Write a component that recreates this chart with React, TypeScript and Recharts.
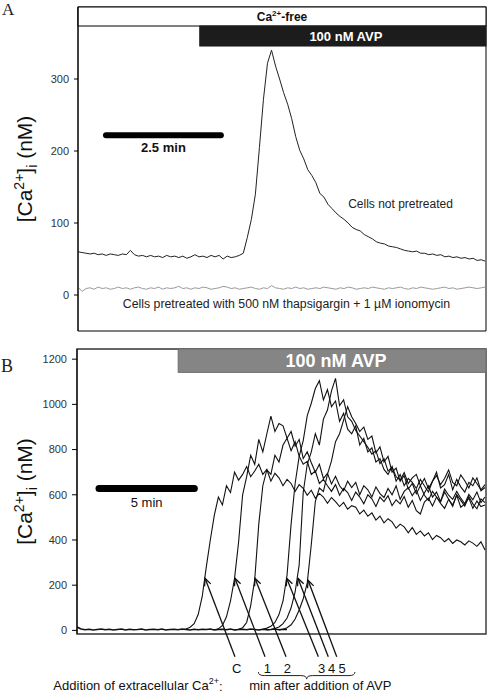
import React from 'react';
import { LineChart, Line, XAxis, YAxis, ReferenceArea, ReferenceLine, ReferenceDot } from 'recharts';

const FONT = '"Liberation Sans", Arial, Helvetica, sans-serif';
const SERIF = '"Liberation Serif", "DejaVu Serif", serif';

// ---- panel A: one sample every 5 s ----
const A_STEP_S = 5;
const untreatedA = [
  60, 59, 58, 57, 58, 56, 57, 55, 57, 56,
  55, 57, 56, 62, 56, 54, 55, 53, 55, 53,
  54, 52, 55, 53, 54, 52, 54, 51, 53, 56,
  53, 54, 52, 55, 53, 55, 50, 54, 52, 53,
  55, 58, 80, 105, 140, 205, 272, 322, 340, 318,
  300, 281, 265, 245, 220, 201, 189, 174, 166, 156,
  141, 136, 126, 120, 114, 109, 105, 100, 94, 91,
  89, 84, 81, 78, 74, 72, 71, 68, 67, 66,
  64, 62, 61, 60, 61, 58, 58, 56, 57, 55,
  56, 53, 54, 52, 53, 51, 52, 50, 51, 48,
  49, 47,
];
const pretreatedA = [
  11, 5, 9, 10, 8, 11, 9, 10, 8, 9,
  11, 9, 10, 8, 10, 11, 9, 8, 10, 9,
  11, 8, 10, 9, 10, 12, 9, 10, 8, 10,
  9, 11, 10, 8, 9, 10, 12, 11, 9, 10,
  8, 9, 10, 11, 9, 8, 10, 9, 13, 10,
  9, 8, 10, 9, 11, 9, 10, 8, 9, 10,
  9, 11, 10, 9, 8, 10, 9, 11, 10, 8,
  9, 10, 9, 11, 10, 9, 8, 10, 9, 10,
  11, 9, 8, 10, 9, 11, 10, 9, 8, 9,
  10, 11, 9, 10, 8, 9, 10, 11, 10, 9,
  10, 11,
];
const yTicksA = [0, 100, 200, 300];

// ---- panel B: one sample every 0.2 min ----
const B_STEP_MIN = 0.2;
const baselineB = [
  15, 6, 3, 5, 2, 4, 6, 3, 5, 2,
  4, 6, 2, 5, 3, 4, 6, 2, 4, 5,
  3, 6, 2, 4, 5, 3, 6, 4, 2, 5,
  3, 5, 4, 6, 2, 4, 5, 3, 6, 2,
  4, 5, 3, 6, 4, 2, 5, 3, 4, 6,
  3, 5, 4,
];
// minute at which each trace record starts (C, 1, 2, 3, 4, 5)
const traceStartsB = [5.2, 6.8, 7.8, 9.0, 9.4, 10.0];
const traceC = [
  3, 6, 14, 30, 70, 150, 280, 400, 510, 590,
  555, 640, 610, 700, 665, 690, 725, 680, 705, 735,
  690, 712, 660, 695, 675, 640, 668, 650, 615, 645,
  628, 598, 620, 585, 606, 590, 562, 588, 570, 548,
  566, 536, 552, 545, 515, 532, 505, 520, 488, 506,
  476, 494, 480, 452, 470, 458, 432, 455, 425, 440,
  418, 432, 402, 420, 410, 392, 406, 385, 400, 392,
  378, 396, 386, 372, 392, 356,
];
const trace1 = [
  3, 7, 22, 60, 130, 230, 390, 600, 680, 775,
  735, 845, 790, 870, 948, 880, 915, 905, 850, 880,
  815, 845, 760, 790, 742, 700, 735, 672, 695, 648,
  682, 640, 618, 660, 632, 655, 600, 640, 622, 590,
  635, 605, 588, 628, 600, 640, 580, 615, 632, 596,
  622, 575, 608, 640, 590, 612, 570, 625, 598, 580,
  615, 585, 560, 602, 578, 612, 565, 590,
];
const trace2 = [
  2, 5, 12, 35, 110, 225, 470, 640, 710, 690,
  775, 745, 820, 850, 795, 835, 770, 735, 748, 690,
  705, 650, 668, 640, 615, 645, 598, 628, 610, 575,
  612, 590, 560, 600, 582, 548, 590, 570, 596, 552,
  578, 560, 592, 545, 575, 530, 515, 568, 585, 550,
  590, 562, 540, 580, 555, 598, 545, 560, 585, 540,
  572, 548, 555,
];
const trace3 = [
  3, 5, 10, 18, 35, 70, 130, 245, 470, 650,
  770, 840, 950, 1005, 1070, 1105, 1020, 1065, 990, 1015,
  925, 960, 890, 870, 905, 820, 850, 790, 808, 745,
  760, 712, 690, 725, 660, 690, 640, 672, 655, 628,
  668, 640, 612, 660, 700, 630, 645, 690, 622, 668,
  635, 612, 655, 640, 675, 618, 632,
];
const trace4 = [
  2, 4, 8, 15, 30, 55, 100, 170, 290, 610,
  735, 790, 870, 820, 935, 975, 1060, 1115, 995, 1020,
  945, 925, 885, 860, 835, 810, 780, 795, 738, 760,
  705, 722, 680, 665, 698, 650, 675, 690, 640, 672,
  628, 660, 685, 645, 672, 710, 655, 640, 688, 662,
  630, 675, 650, 622, 645,
];
const trace5 = [
  2, 5, 12, 25, 50, 90, 140, 210, 380, 570,
  630, 615, 690, 750, 835, 870, 930, 990, 945, 915,
  880, 900, 845, 860, 785, 812, 745, 770, 700, 718,
  660, 685, 625, 650, 605, 640, 598, 575, 615, 590,
  568, 612, 580, 548, 600, 575, 550, 592, 560, 538,
  582, 565,
];
const yTicksB = [0, 200, 400, 600, 800, 1000, 1200];

// arrows: label, tail minute, tip minute, tip value
const arrowLabels = ['C', '1', '2', '3', '4', '5'];
const arrowTailT = [7.82, 9.31, 10.35, 11.95, 12.44, 12.86];
const arrowTipT = [6.34, 7.82, 8.81, 10.38, 10.94, 11.44];
const arrowTipV = [231, 231, 231, 231, 231, 222];
const arrowLabelT = [7.91, 9.42, 10.41, 12.11, 12.61, 13.13];

const panelAData = untreatedA.map((v, i) => ({
  t: i * A_STEP_S,
  untreated: v,
  pretreated: pretreatedA[i],
}));

const toSeries = (start: number, values: number[]) =>
  values.map((v, i) => ({ t: +(start + i * B_STEP_MIN).toFixed(2), v }));

const baselineSeries = toSeries(0, baselineB);
const tracesB = [traceC, trace1, trace2, trace3, trace4, trace5].map((vals, k) =>
  toSeries(traceStartsB[k], vals)
);

const tickStyle = { fill: '#333', fontSize: 11, fontFamily: FONT };

const yLabel = (props: any) => {
  const vb = props.viewBox || {};
  const cy = (vb.y ?? 0) + (vb.height ?? 0) / 2;
  const x = 32;
  return (
    <text
      x={x}
      y={cy}
      transform={`rotate(-90 ${x} ${cy})`}
      textAnchor="middle"
      fontFamily={FONT}
      fontSize={21}
      fill="#111"
    >
      [Ca<tspan fontSize={14} dy={-8}>2+</tspan>
      <tspan dy={8}>]</tspan>
      <tspan fontSize={14} dy={5}>i</tspan>
      <tspan dy={-5}>{' (nM)'}</tspan>
    </text>
  );
};

const note = (x: number, y: number, content: React.ReactNode, opts: any = {}) => (
  <ReferenceDot
    x={x}
    y={y}
    r={0}
    ifOverflow="visible"
    shape={(p: any) => (
      <text
        x={p.cx}
        y={p.cy}
        textAnchor={opts.anchor || 'middle'}
        dominantBaseline="central"
        fontFamily={FONT}
        fontSize={opts.size || 12}
        fontWeight={opts.bold ? 'bold' : 'normal'}
        fill={opts.color || '#222'}
      >
        {content}
      </text>
    )}
  />
);

const scaleBar = (text: string, bold: boolean, width: number, gap: number) => (p: any) => (
  <g>
    <line x1={p.x1} y1={p.y1} x2={p.x2} y2={p.y2} stroke="#000" strokeWidth={width} strokeLinecap="round" />
    <text
      x={(p.x1 + p.x2) / 2}
      y={p.y1 + gap}
      textAnchor="middle"
      dominantBaseline="central"
      fontFamily={FONT}
      fontSize={13}
      fontWeight={bold ? 'bold' : 'normal'}
      fill="#111"
    >
      {text}
    </text>
  </g>
);

const barShape = (fill: string, stroke: string, content: React.ReactNode, size: number, color: string, dx = 0) => (p: any) => (
  <g>
    <rect x={p.x} y={p.y} width={p.width} height={p.height} fill={fill} stroke={stroke} />
    <text
      x={p.x + p.width / 2 + dx}
      y={p.y + p.height / 2}
      textAnchor="middle"
      dominantBaseline="central"
      fontFamily={FONT}
      fontSize={size}
      fontWeight="bold"
      fill={color}
    >
      {content}
    </text>
  </g>
);

const arrowShape = (p: any) => {
  const { x1, y1, x2, y2 } = p;
  const a = Math.atan2(y2 - y1, x2 - x1);
  const len = 8;
  const w = 0.42;
  const ax = x2 - len * Math.cos(a - w);
  const ay = y2 - len * Math.sin(a - w);
  const bx = x2 - len * Math.cos(a + w);
  const by = y2 - len * Math.sin(a + w);
  return (
    <g>
      <line x1={x1} y1={y1} x2={x2} y2={y2} stroke="#111" strokeWidth={1.3} />
      <polyline points={`${ax},${ay} ${x2},${y2} ${bx},${by}`} fill="none" stroke="#111" strokeWidth={1.3} />
    </g>
  );
};

const braceShape = (p: any) => {
  const { x1, x2, y1: y } = p;
  const h = 7;
  const m = (x1 + x2) / 2;
  const d = `M${x1},${y} Q${x1},${y + h / 2} ${x1 + 6},${y + h / 2} L${m - 6},${y + h / 2} Q${m},${y + h / 2} ${m},${y + h} Q${m},${y + h / 2} ${m + 6},${y + h / 2} L${x2 - 6},${y + h / 2} Q${x2},${y + h / 2} ${x2},${y}`;
  return <path d={d} fill="none" stroke="#222" strokeWidth={1} />;
};

function PanelA() {
  return (
    <LineChart width={488} height={340} data={panelAData} margin={{ top: 7, right: 2, bottom: 9, left: 0 }}>
      <XAxis dataKey="t" type="number" domain={[0, 506]} hide allowDataOverflow />
      <YAxis
        type="number"
        domain={[-50, 400]}
        ticks={yTicksA}
        interval={0}
        width={78}
        tickSize={4}
        tickMargin={5}
        axisLine={{ stroke: '#000' }}
        tickLine={{ stroke: '#000' }}
        tick={tickStyle}
        label={yLabel}
        allowDataOverflow
      />
      <ReferenceArea x1={0} x2={506} y1={-50} y2={400} fill="none" stroke="#000" ifOverflow="visible" />
      <ReferenceArea
        x1={0}
        x2={506}
        y1={373.6}
        y2={400}
        ifOverflow="visible"
        shape={barShape(
          '#fff',
          '#000',
          <>
            Ca<tspan fontSize={8} dy={-4}>2+</tspan>
            <tspan dy={4}>-free</tspan>
          </>,
          12,
          '#111'
        )}
      />
      <ReferenceArea
        x1={151}
        x2={506}
        y1={345.8}
        y2={373.6}
        ifOverflow="visible"
        shape={barShape('#1c1c1c', '#1c1c1c', '100 nM AVP', 13, '#fff', 3)}
      />
      <Line type="linear" dataKey="pretreated" stroke="#9a9a9a" strokeWidth={1} dot={false} isAnimationActive={false} />
      <Line type="linear" dataKey="untreated" stroke="#222" strokeWidth={1} dot={false} isAnimationActive={false} />
      <ReferenceLine
        segment={[{ x: 34.7, y: 222 }, { x: 177.2, y: 222 }]}
        ifOverflow="visible"
        shape={scaleBar('2.5 min', true, 6, 12)}
      />
      {note(400, 126.4, 'Cells not pretreated')}
      {note(258.6, -12.5, <>Cells pretreated with 500 nM thapsigargin + 1 {'\u00b5'}M ionomycin</>, { size: 12.3 })}
    </LineChart>
  );
}

function PanelB() {
  return (
    <LineChart width={488} height={354} margin={{ top: 9, right: 2, bottom: 60, left: 0 }}>
      <XAxis dataKey="t" type="number" domain={[0, 20.25]} hide allowDataOverflow />
      <YAxis
        type="number"
        domain={[-16, 1245]}
        ticks={yTicksB}
        interval={0}
        width={77}
        tickSize={5}
        tickMargin={5}
        axisLine={{ stroke: '#000' }}
        tickLine={{ stroke: '#000' }}
        tick={tickStyle}
        label={yLabel}
        allowDataOverflow
      />
      <ReferenceArea x1={0} x2={20.25} y1={-16} y2={1245} fill="none" stroke="#333" strokeWidth={1.4} ifOverflow="visible" />
      <ReferenceArea
        x1={5.01}
        x2={20.25}
        y1={1141.6}
        y2={1245}
        ifOverflow="visible"
        shape={barShape('#858585', '#6e6e6e', '100 nM AVP', 18, '#fff', 4)}
      />
      <Line
        data={baselineSeries}
        type="linear"
        dataKey="v"
        stroke="#111"
        strokeWidth={1.6}
        dot={false}
        isAnimationActive={false}
      />
      {tracesB.map((s, k) => (
        <Line
          key={arrowLabels[k]}
          data={s}
          type="linear"
          dataKey="v"
          stroke="#111"
          strokeWidth={1.1}
          dot={false}
          isAnimationActive={false}
        />
      ))}
      <ReferenceLine
        segment={[{ x: 1.09, y: 628 }, { x: 5.81, y: 628 }]}
        ifOverflow="visible"
        shape={scaleBar('5 min', false, 7, 14.4)}
      />
      {arrowLabels.map((lab, k) => (
        <ReferenceLine
          key={'arr' + lab}
          segment={[{ x: arrowTailT[k], y: -117 }, { x: arrowTipT[k], y: arrowTipV[k] }]}
          ifOverflow="visible"
          shape={arrowShape}
        />
      ))}
      {arrowLabels.map((lab, k) => (
        <React.Fragment key={'lab' + lab}>{note(arrowLabelT[k], -168, lab, { size: 13, color: '#111' })}</React.Fragment>
      ))}
      <ReferenceLine
        segment={[{ x: 8.98, y: -184.5 }, { x: 13.76, y: -184.5 }]}
        ifOverflow="visible"
        shape={braceShape}
      />
      {note(
        -1.17,
        -244,
        <>
          Addition of extracellular Ca<tspan fontSize={9} dy={-5}>2+</tspan>
          <tspan dy={5}>:</tspan>
        </>,
        { size: 13, anchor: 'start', color: '#111' }
      )}
      {note(8.53, -244, 'min after addition of AVP', { size: 13, anchor: 'start', color: '#111' })}
    </LineChart>
  );
}

export default function App() {
  return (
    <div style={{ position: 'absolute', left: 0, top: 0, width: 488, height: 694, background: '#fff', overflow: 'hidden' }}>
      <div style={{ position: 'absolute', left: 0, top: 0 }}>
        <PanelA />
      </div>
      <div style={{ position: 'absolute', left: 0, top: 340 }}>
        <PanelB />
      </div>
      <div style={{ position: 'absolute', left: 2, top: 1, fontFamily: SERIF, fontSize: 17, lineHeight: '17px', color: '#222' }}>A</div>
      <div style={{ position: 'absolute', left: 1, top: 357, fontFamily: SERIF, fontSize: 18, lineHeight: '18px', color: '#222' }}>B</div>
    </div>
  );
}
